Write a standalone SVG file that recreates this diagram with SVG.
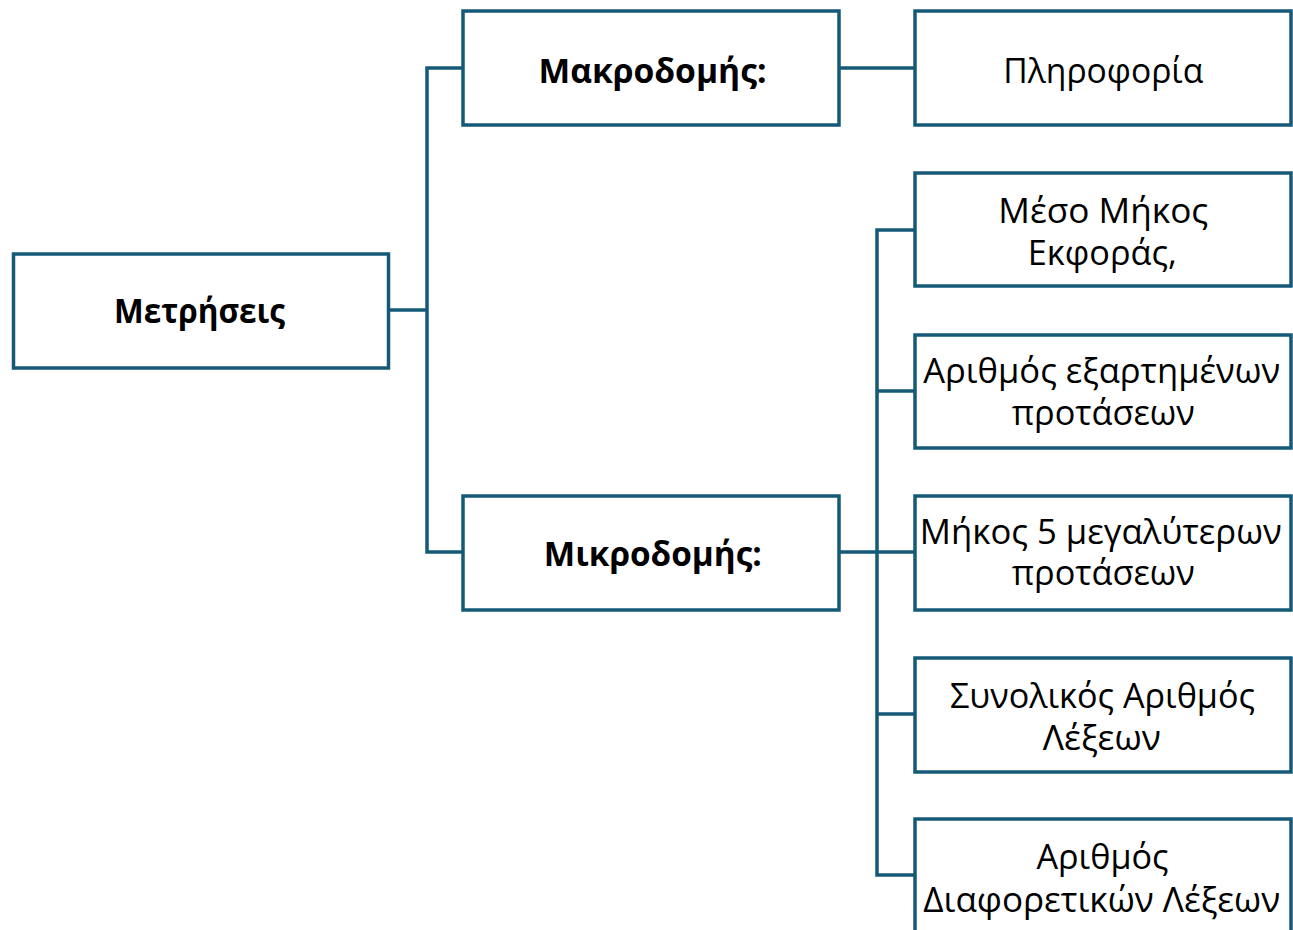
<svg xmlns="http://www.w3.org/2000/svg" width="1293" height="930" viewBox="0 0 1293 930">
<style>
.box{fill:#fff;stroke:#145a78;stroke-width:3.5}
.ln{fill:none;stroke:#145a78;stroke-width:3.5}
.t{font-family:"Open Sans","Noto Sans","DejaVu Sans",sans-serif;font-size:34px;fill:#000;text-anchor:middle}
.b{font-weight:bold}
</style>
<rect width="1293" height="930" fill="#fff"/>
<g id="connectors">
<polyline class="ln" points="389,310 427,310"/>
<polyline class="ln" points="463,68 427,68 427,552 463,552"/>
<polyline class="ln" points="839,68 915,68"/>
<polyline class="ln" points="839,552 877,552"/>
<polyline class="ln" points="915,230 877,230 877,875 915,875"/>
<polyline class="ln" points="877,391 915,391"/>
<polyline class="ln" points="877,552 915,552"/>
<polyline class="ln" points="877,714 915,714"/>
</g>
<g id="n-root"><rect class="box" x="13.5" y="254" width="375" height="114"/><text class="t b" x="199.5" y="322.5" font-size="32" textLength="171" lengthAdjust="spacingAndGlyphs">Μετρήσεις</text></g>
<g id="n-macro"><rect class="box" x="463" y="11" width="376" height="114"/><text class="t b" x="652.5" y="83" font-size="36" textLength="228" lengthAdjust="spacingAndGlyphs">Μακροδομής:</text></g>
<g id="n-micro"><rect class="box" x="463" y="496" width="376" height="114"/><text class="t b" x="652.8" y="566" font-size="34" textLength="218" lengthAdjust="spacingAndGlyphs">Μικροδομής:</text></g>
<g id="n-info"><rect class="box" x="915" y="11" width="376" height="114"/><text class="t" x="1103.3" y="83" font-size="37" textLength="200" lengthAdjust="spacingAndGlyphs">Πληροφορία</text></g>
<g id="n-mean"><rect class="box" x="915" y="173" width="376" height="113"/><text class="t" x="1103.3" y="222.5" textLength="210" lengthAdjust="spacingAndGlyphs">Μέσο Μήκος</text><text class="t" x="1102.3" y="265" textLength="149" lengthAdjust="spacingAndGlyphs">Εκφοράς,</text></g>
<g id="n-dep"><rect class="box" x="915" y="335" width="376" height="113"/><text class="t" x="1101.7" y="382.5" textLength="357" lengthAdjust="spacingAndGlyphs">Αριθμός εξαρτημένων</text><text class="t" x="1103.3" y="425" textLength="183" lengthAdjust="spacingAndGlyphs">προτάσεων</text></g>
<g id="n-len5"><rect class="box" x="915" y="496" width="376" height="114"/><text class="t" x="1100.8" y="543.5" textLength="362" lengthAdjust="spacingAndGlyphs">Μήκος 5 μεγαλύτερων</text><text class="t" x="1103.3" y="585" textLength="183" lengthAdjust="spacingAndGlyphs">προτάσεων</text></g>
<g id="n-total"><rect class="box" x="915" y="658" width="376" height="114"/><text class="t" x="1102.5" y="707.5" textLength="305" lengthAdjust="spacingAndGlyphs">Συνολικός Αριθμός</text><text class="t" x="1101.8" y="750" textLength="118" lengthAdjust="spacingAndGlyphs">Λέξεων</text></g>
<g id="n-diff"><rect class="box" x="915" y="819" width="376" height="120"/><text class="t" x="1102.5" y="868.5" textLength="132" lengthAdjust="spacingAndGlyphs">Αριθμός</text><text class="t" x="1101.7" y="911.5" textLength="357" lengthAdjust="spacingAndGlyphs">Διαφορετικών Λέξεων</text></g>
</svg>
